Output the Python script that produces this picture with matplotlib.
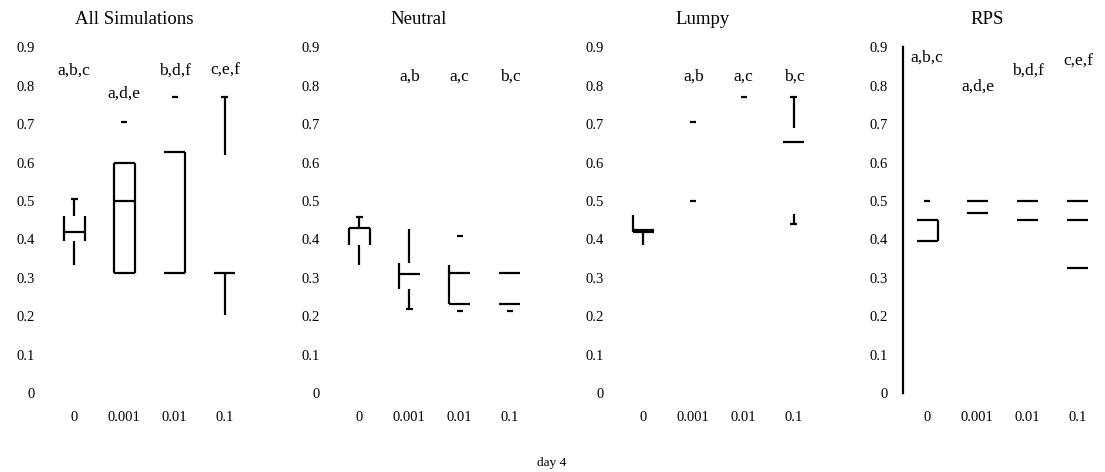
import numpy as np
from matplotlib import pyplot as plt

plt.rcParams['font.family'] = 'serif'
plt.rcParams['font.serif'] = ['Liberation Serif', 'DejaVu Serif']

categories = ['0', '0.001', '0.01', '0.1']
panel_titles = ['All Simulations', 'Neutral', 'Lumpy', 'RPS']
y_ticks = [0, 0.1, 0.2, 0.3, 0.4, 0.5, 0.6, 0.7, 0.8, 0.9]
x_label = 'day 4'

# box statistics per group: lo / q1 / med / q3 / hi, plus short-dash fliers
all_sims_stats = [
    dict(lo=0.333, q1=0.395, med=0.42, q3=0.46, hi=0.505),
    dict(q1=0.313, med=0.50, q3=0.60, fliers=[0.705]),
    dict(q1=0.313, q3=0.627, fliers=[0.77]),
    dict(lo=0.203, q1=0.312, q3=0.62, hi=0.77),
]
neutral_stats = [
    dict(lo=0.333, q1=0.385, q3=0.43, hi=0.458),
    dict(lo=0.218, q1=0.27, med=0.31, q3=0.338, hi=0.427),
    dict(q1=0.232, med=0.312, q3=0.333, fliers=[0.41, 0.215]),
    dict(q1=0.232, med=0.312, fliers=[0.215]),
]
lumpy_stats = [
    dict(lo=0.385, q1=0.42, med=0.425, q3=0.463),
    dict(fliers=[0.705, 0.50]),
    dict(fliers=[0.77]),
    dict(lo=0.44, q1=0.465, med=0.653, q3=0.69, hi=0.77),
]
rps_stats = [
    dict(q1=0.395, q3=0.45, fliers=[0.50]),
    dict(med=0.468, q3=0.50),
    dict(med=0.45, q3=0.50),
    dict(q1=0.325, med=0.45, q3=0.50),
]

# significance letters and the height they sit at
all_sims_letters = ['a,b,c', 'a,d,e', 'b,d,f', 'c,e,f']
all_sims_letter_y = [0.84, 0.78, 0.84, 0.84]
neutral_letters = ['', 'a,b', 'a,c', 'b,c']
neutral_letter_y = [0.823, 0.823, 0.823, 0.823]
lumpy_letters = ['', 'a,b', 'a,c', 'b,c']
lumpy_letter_y = [0.823, 0.823, 0.823, 0.823]
rps_letters = ['a,b,c', 'a,d,e', 'b,d,f', 'c,e,f']
rps_letter_y = [0.872, 0.797, 0.84, 0.862]

# which pieces of each box get drawn
all_sims_parts = ['ch wh bl br md wl', 'bl br bt bb md', 'bt br bb', 'ch wh bb wl']
neutral_parts = ['ch wh bt bl br wl', 'wh bl md wl cl', 'bl md bb', 'md bb']
lumpy_parts = ['bl md bb wl', '', '', 'ch wh md wl cl']
rps_parts = ['bt br bb', 'bt md', 'bt md', 'bt md bb']


def draw_box(ax, x, st, parts, width=0.42, cap=0.14, dash=0.12, lw=1.6):
    parts = parts.split()
    half = width / 2
    kw = dict(color='black', lw=lw, solid_capstyle='butt')
    if 'wh' in parts:
        ax.plot([x, x], [st['q3'], st['hi']], **kw)
    if 'ch' in parts:
        ax.plot([x - cap / 2, x + cap / 2], [st['hi'], st['hi']], **kw)
    if 'wl' in parts:
        ax.plot([x, x], [st['q1'], st['lo']], **kw)
    if 'cl' in parts:
        ax.plot([x - cap / 2, x + cap / 2], [st['lo'], st['lo']], **kw)
    if 'bl' in parts:
        ax.plot([x - half, x - half], [st['q1'], st['q3']], **kw)
    if 'br' in parts:
        ax.plot([x + half, x + half], [st['q1'], st['q3']], **kw)
    if 'bt' in parts:
        ax.plot([x - half, x + half], [st['q3'], st['q3']], **kw)
    if 'bb' in parts:
        ax.plot([x - half, x + half], [st['q1'], st['q1']], **kw)
    if 'md' in parts:
        ax.plot([x - half, x + half], [st['med'], st['med']], **kw)
    for f in st.get('fliers', []):
        ax.plot([x - dash / 2, x + dash / 2], [f, f], **kw)


panels = [
    (all_sims_stats, all_sims_parts, all_sims_letters, all_sims_letter_y),
    (neutral_stats, neutral_parts, neutral_letters, neutral_letter_y),
    (lumpy_stats, lumpy_parts, lumpy_letters, lumpy_letter_y),
    (rps_stats, rps_parts, rps_letters, rps_letter_y),
]
lefts = [0.0452, 0.3032, 0.5602, 0.8172]

fig = plt.figure(figsize=(11.05, 4.72), dpi=100)
for i, (stats, parts, letters, letter_y) in enumerate(panels):
    ax = fig.add_axes([lefts[i], 0.167, 0.181, 0.733])
    xs = np.arange(1, len(categories) + 1)
    for x, st, p in zip(xs, stats, parts):
        draw_box(ax, x, st, p)
    for x, lab, ly in zip(xs, letters, letter_y):
        if lab:
            ax.text(x, ly, lab, ha='center', va='center', fontsize=12.5)
    ax.set_xlim(0.52, 4.5)
    ax.set_ylim(0, 0.9)
    ax.set_yticks(y_ticks)
    ax.set_yticklabels(['0'] + ['%.1f' % v for v in y_ticks[1:]], fontsize=10.5)
    ax.set_xticks(xs)
    ax.set_xticklabels(categories, fontsize=10.5)
    ax.tick_params(length=0)
    ax.tick_params(axis='y', pad=11)
    ax.tick_params(axis='x', pad=13)
    for side in ['top', 'right', 'bottom']:
        ax.spines[side].set_visible(False)
    if i == 3:
        ax.spines['left'].set_linewidth(1.6)
    else:
        ax.spines['left'].set_visible(False)
    ax.set_title(panel_titles[i], x=0.42, fontsize=13.5, pad=17)

fig.text(552 / 1105, 1 - 463 / 472, x_label, ha='center', va='center', fontsize=9.5)
fig.savefig('out.png', dpi=100)
